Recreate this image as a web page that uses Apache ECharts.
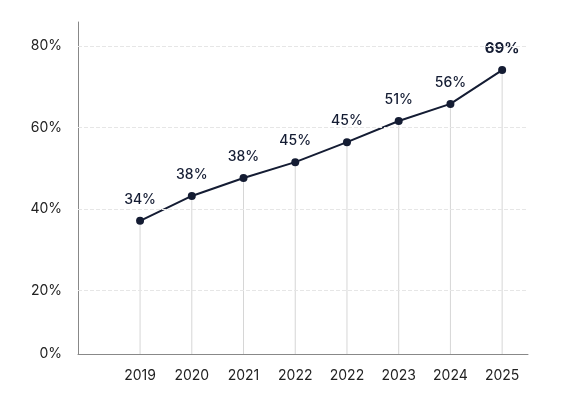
<!DOCTYPE html><html><head><meta charset="utf-8"><script src="https://cdn.jsdelivr.net/npm/echarts@6/dist/echarts.min.js"></script></head><body style="margin:0"><div id="c" style="width:573px;height:418px"></div><script>
const categories=['2019','2020','2021','2022','2022','2023','2024','2025'];
const values=[37.1,43.2,47.6,51.5,56.4,61.6,65.8,74.1];
const labels=['34%','38%','38%','45%','45%','51%','56%','69%'];
const yTicks=[20,40,60,80];
const yMin=4.4,yMax=85.9;
const ch=echarts.init(document.getElementById('c'));
const idx=categories.map((_,i)=>i);
ch.setOption({animation:false,
grid:{left:78,right:45,top:22,bottom:64},
xAxis:{type:'value',min:-1.2,max:7.5,splitLine:{show:false},axisLine:{show:true,onZero:false,lineStyle:{color:'#888'}},axisTick:{show:false},
 axisLabel:{customValues:idx,formatter:v=>categories[Math.round(v)],color:'#222',fontSize:14,fontFamily:'Inter',margin:15}},
yAxis:{type:'value',min:yMin,max:yMax,splitLine:{show:false},axisLine:{show:true,onZero:false,lineStyle:{color:'#888'}},axisTick:{show:false},
 axisLabel:{customValues:[yMin].concat(yTicks),formatter:v=>(v===yMin?0:v)+'%',color:'#222',fontSize:14,fontFamily:'Inter',margin:16}},
series:[
{type:'bar',data:idx.map(i=>[i,values[i]]),barWidth:1,itemStyle:{color:'#d6d6d6'},silent:true,
 markLine:{symbol:'none',silent:true,label:{show:false},lineStyle:{color:'#e6e6e6',type:'dashed',width:1},data:yTicks.map(v=>({yAxis:v}))}},
{type:'line',data:idx.map(i=>i===7?{value:[i,values[i]],label:{fontSize:15,fontWeight:'bold'}}:[i,values[i]]),symbol:'circle',symbolSize:8,lineStyle:{color:'#141c33',width:2},itemStyle:{color:'#141c33'},
 label:{show:true,position:'top',distance:10,formatter:p=>labels[p.dataIndex],color:'#141c33',fontSize:14,fontWeight:500,fontFamily:'Inter'}}
]});
</script></body></html>
